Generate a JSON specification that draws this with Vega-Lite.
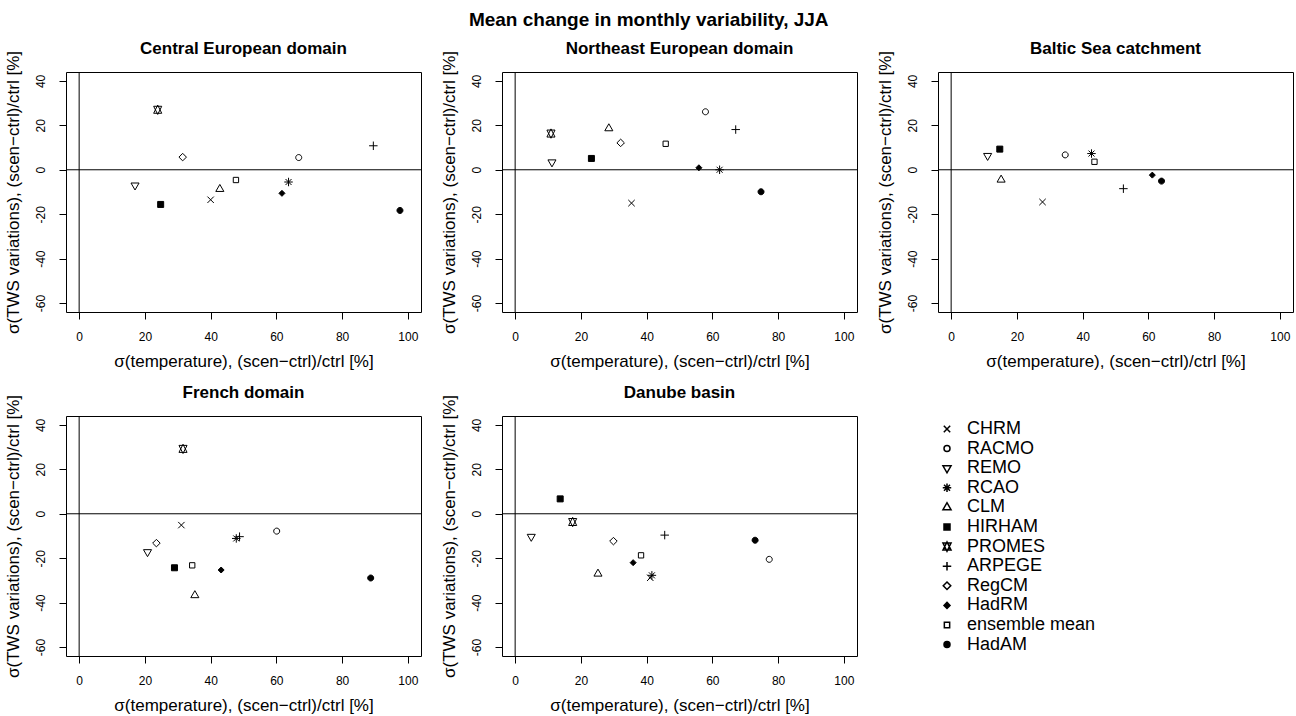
{
  "$schema": "https://vega.github.io/schema/vega-lite/v6.json",
  "padding": {"left": 3, "top": 11, "right": 0, "bottom": 0},
  "background": "white",
  "title": {"text": "Mean change in monthly variability, JJA", "fontSize": 19, "fontWeight": "bold", "anchor": "middle", "frame": "bounds", "offset": -6, "baseline": "alphabetic", "font": "Liberation Sans", "color": "black"},
  "datasets": {
    "pts": [
      {"region": "Central European domain", "model": "CHRM", "temp": 40.0, "tws": -13.5},
      {"region": "Central European domain", "model": "RACMO", "temp": 66.8, "tws": 5.5},
      {"region": "Central European domain", "model": "REMO", "temp": 17.0, "tws": -7.0},
      {"region": "Central European domain", "model": "RCAO", "temp": 63.7, "tws": -5.5},
      {"region": "Central European domain", "model": "CLM", "temp": 42.8, "tws": -8.7},
      {"region": "Central European domain", "model": "HIRHAM", "temp": 24.8, "tws": -15.6},
      {"region": "Central European domain", "model": "PROMES", "temp": 23.9, "tws": 27.0},
      {"region": "Central European domain", "model": "ARPEGE", "temp": 89.5, "tws": 10.8},
      {"region": "Central European domain", "model": "RegCM", "temp": 31.5, "tws": 5.7},
      {"region": "Central European domain", "model": "HadRM", "temp": 61.7, "tws": -10.6},
      {"region": "Central European domain", "model": "ensemble mean", "temp": 47.7, "tws": -4.6},
      {"region": "Central European domain", "model": "HadAM", "temp": 97.6, "tws": -18.3},
      {"region": "Northeast European domain", "model": "CHRM", "temp": 35.4, "tws": -15.0},
      {"region": "Northeast European domain", "model": "RACMO", "temp": 57.9, "tws": 26.1},
      {"region": "Northeast European domain", "model": "REMO", "temp": 11.2, "tws": 3.4},
      {"region": "Northeast European domain", "model": "RCAO", "temp": 62.2, "tws": 0.0},
      {"region": "Northeast European domain", "model": "CLM", "temp": 28.5, "tws": 18.6},
      {"region": "Northeast European domain", "model": "HIRHAM", "temp": 23.2, "tws": 5.1},
      {"region": "Northeast European domain", "model": "PROMES", "temp": 10.9, "tws": 16.3},
      {"region": "Northeast European domain", "model": "ARPEGE", "temp": 67.1, "tws": 18.1},
      {"region": "Northeast European domain", "model": "RegCM", "temp": 32.1, "tws": 12.1},
      {"region": "Northeast European domain", "model": "HadRM", "temp": 55.9, "tws": 0.9},
      {"region": "Northeast European domain", "model": "ensemble mean", "temp": 45.8, "tws": 11.7},
      {"region": "Northeast European domain", "model": "HadAM", "temp": 74.8, "tws": -9.9},
      {"region": "Baltic Sea catchment", "model": "CHRM", "temp": 27.8, "tws": -14.5},
      {"region": "Baltic Sea catchment", "model": "RACMO", "temp": 34.7, "tws": 6.7},
      {"region": "Baltic Sea catchment", "model": "REMO", "temp": 11.1, "tws": 6.3},
      {"region": "Baltic Sea catchment", "model": "RCAO", "temp": 42.7, "tws": 7.3},
      {"region": "Baltic Sea catchment", "model": "CLM", "temp": 15.2, "tws": -4.5},
      {"region": "Baltic Sea catchment", "model": "HIRHAM", "temp": 14.8, "tws": 9.3},
      {"region": "Baltic Sea catchment", "model": "ARPEGE", "temp": 52.4, "tws": -8.5},
      {"region": "Baltic Sea catchment", "model": "HadRM", "temp": 61.2, "tws": -2.4},
      {"region": "Baltic Sea catchment", "model": "ensemble mean", "temp": 43.6, "tws": 3.6},
      {"region": "Baltic Sea catchment", "model": "HadAM", "temp": 64.0, "tws": -5.1},
      {"region": "French domain", "model": "CHRM", "temp": 31.1, "tws": -5.1},
      {"region": "French domain", "model": "RACMO", "temp": 60.1, "tws": -7.8},
      {"region": "French domain", "model": "REMO", "temp": 20.8, "tws": -17.2},
      {"region": "French domain", "model": "RCAO", "temp": 47.8, "tws": -11.1},
      {"region": "French domain", "model": "CLM", "temp": 35.2, "tws": -36.7},
      {"region": "French domain", "model": "HIRHAM", "temp": 29.0, "tws": -24.3},
      {"region": "French domain", "model": "PROMES", "temp": 31.6, "tws": 29.2},
      {"region": "French domain", "model": "ARPEGE", "temp": 48.8, "tws": -10.3},
      {"region": "French domain", "model": "RegCM", "temp": 23.5, "tws": -13.2},
      {"region": "French domain", "model": "HadRM", "temp": 43.2, "tws": -25.3},
      {"region": "French domain", "model": "ensemble mean", "temp": 34.4, "tws": -23.2},
      {"region": "French domain", "model": "HadAM", "temp": 88.7, "tws": -28.9},
      {"region": "Danube basin", "model": "CHRM", "temp": 41.1, "tws": -28.8},
      {"region": "Danube basin", "model": "RACMO", "temp": 77.3, "tws": -20.5},
      {"region": "Danube basin", "model": "REMO", "temp": 4.9, "tws": -10.3},
      {"region": "Danube basin", "model": "RCAO", "temp": 41.6, "tws": -27.7},
      {"region": "Danube basin", "model": "CLM", "temp": 25.2, "tws": -27.0},
      {"region": "Danube basin", "model": "HIRHAM", "temp": 13.7, "tws": 6.7},
      {"region": "Danube basin", "model": "PROMES", "temp": 17.5, "tws": -3.7},
      {"region": "Danube basin", "model": "ARPEGE", "temp": 45.5, "tws": -9.6},
      {"region": "Danube basin", "model": "RegCM", "temp": 29.9, "tws": -12.3},
      {"region": "Danube basin", "model": "HadRM", "temp": 35.9, "tws": -22.0},
      {"region": "Danube basin", "model": "ensemble mean", "temp": 38.3, "tws": -18.7},
      {"region": "Danube basin", "model": "HadAM", "temp": 73.0, "tws": -11.9}
    ]
  },
  "columns": 3,
  "spacing": {"row": 104, "column": 81},
  "bounds": "flush",
  "concat": [
    {"title": "Central European domain", "width": 355, "height": 240, "layer": [
      {"data": {"name": "pts"}, "transform": [{"filter": "datum.region === 'Central European domain'"}],
       "mark": {"type": "point", "filled": false, "size": 64, "color": "black", "stroke": "black", "strokeWidth": 1, "opacity": 1},
       "encoding": {
         "x": {"field": "temp", "type": "quantitative", "title": "σ(temperature), (scen−ctrl)/ctrl [%]", "scale": {"domain": [-4, 104], "nice": false, "zero": false}, "axis": {"values": [0, 20, 40, 60, 80, 100]}},
         "y": {"field": "tws", "type": "quantitative", "title": "σ(TWS variations), (scen−ctrl)/ctrl [%]", "scale": {"domain": [-64, 44], "nice": false, "zero": false}, "axis": {"values": [-60, -40, -20, 0, 20, 40], "labelExpr": "'' + datum.value"}},
         "shape": {"field": "model", "type": "nominal", "title": null, "legend": {"encode": {"symbols": {"stroke": {"value": "black"}, "strokeWidth": {"value": 1}}}}, "scale": {"domain": ["CHRM", "RACMO", "REMO", "RCAO", "CLM", "HIRHAM", "PROMES", "ARPEGE", "RegCM", "HadRM", "ensemble mean", "HadAM"], "range": ["M-0.8,-0.8L0.8,0.8M-0.8,0.8L0.8,-0.8", "M0.75,0A0.75,0.75,0,1,1,-0.75,0A0.75,0.75,0,1,1,0.75,0Z", "M-1.01,-0.583L1.01,-0.583L0,1.166Z", "M-0.75,-0.75L0.75,0.75M-0.75,0.75L0.75,-0.75M-1.06,0L1.06,0M0,-1.06L0,1.06", "M-1.01,0.583L1.01,0.583L0,-1.166Z", "M-0.75,-0.75L0.75,-0.75L0.75,0.75L-0.75,0.75Z", "M-1.01,0.875L1.01,0.875L0,-1.166ZM-1.01,-0.875L1.01,-0.875L0,1.166Z", "M-1.06,0L1.06,0M0,-1.06L0,1.06", "M0,-0.94L0.94,0L0,0.94L-0.94,0Z", "M0,-0.75L0.75,0L0,0.75L-0.75,0Z", "M-0.665,-0.665L0.665,-0.665L0.665,0.665L-0.665,0.665Z", "M0.75,0A0.75,0.75,0,1,1,-0.75,0A0.75,0.75,0,1,1,0.75,0Z"]}},
         "fill": {"field": "model", "type": "nominal", "title": null, "legend": {"encode": {"symbols": {"stroke": {"value": "black"}, "strokeWidth": {"value": 1}}}}, "scale": {"domain": ["CHRM", "RACMO", "REMO", "RCAO", "CLM", "HIRHAM", "PROMES", "ARPEGE", "RegCM", "HadRM", "ensemble mean", "HadAM"], "range": ["transparent", "transparent", "transparent", "transparent", "transparent", "black", "transparent", "transparent", "transparent", "black", "transparent", "black"]}}
       }},
      {"data": {"values": [{}]}, "mark": {"type": "rule", "color": "black", "strokeWidth": 1}, "encoding": {"y": {"datum": 0, "type": "quantitative", "title": "σ(TWS variations), (scen−ctrl)/ctrl [%]"}}},
      {"data": {"values": [{}]}, "mark": {"type": "rule", "color": "black", "strokeWidth": 1}, "encoding": {"x": {"datum": 0, "type": "quantitative", "title": "σ(temperature), (scen−ctrl)/ctrl [%]"}}}
    ]},
    {"title": "Northeast European domain", "width": 355, "height": 240, "layer": [
      {"data": {"name": "pts"}, "transform": [{"filter": "datum.region === 'Northeast European domain'"}],
       "mark": {"type": "point", "filled": false, "size": 64, "color": "black", "stroke": "black", "strokeWidth": 1, "opacity": 1},
       "encoding": {
         "x": {"field": "temp", "type": "quantitative", "title": "σ(temperature), (scen−ctrl)/ctrl [%]", "scale": {"domain": [-4, 104], "nice": false, "zero": false}, "axis": {"values": [0, 20, 40, 60, 80, 100]}},
         "y": {"field": "tws", "type": "quantitative", "title": "σ(TWS variations), (scen−ctrl)/ctrl [%]", "scale": {"domain": [-64, 44], "nice": false, "zero": false}, "axis": {"values": [-60, -40, -20, 0, 20, 40], "labelExpr": "'' + datum.value"}},
         "shape": {"field": "model", "type": "nominal", "title": null, "legend": {"encode": {"symbols": {"stroke": {"value": "black"}, "strokeWidth": {"value": 1}}}}},
         "fill": {"field": "model", "type": "nominal", "title": null, "legend": {"encode": {"symbols": {"stroke": {"value": "black"}, "strokeWidth": {"value": 1}}}}}
       }},
      {"data": {"values": [{}]}, "mark": {"type": "rule", "color": "black", "strokeWidth": 1}, "encoding": {"y": {"datum": 0, "type": "quantitative", "title": "σ(TWS variations), (scen−ctrl)/ctrl [%]"}}},
      {"data": {"values": [{}]}, "mark": {"type": "rule", "color": "black", "strokeWidth": 1}, "encoding": {"x": {"datum": 0, "type": "quantitative", "title": "σ(temperature), (scen−ctrl)/ctrl [%]"}}}
    ]},
    {"title": "Baltic Sea catchment", "width": 355, "height": 240, "layer": [
      {"data": {"name": "pts"}, "transform": [{"filter": "datum.region === 'Baltic Sea catchment'"}],
       "mark": {"type": "point", "filled": false, "size": 64, "color": "black", "stroke": "black", "strokeWidth": 1, "opacity": 1},
       "encoding": {
         "x": {"field": "temp", "type": "quantitative", "title": "σ(temperature), (scen−ctrl)/ctrl [%]", "scale": {"domain": [-4, 104], "nice": false, "zero": false}, "axis": {"values": [0, 20, 40, 60, 80, 100]}},
         "y": {"field": "tws", "type": "quantitative", "title": "σ(TWS variations), (scen−ctrl)/ctrl [%]", "scale": {"domain": [-64, 44], "nice": false, "zero": false}, "axis": {"values": [-60, -40, -20, 0, 20, 40], "labelExpr": "'' + datum.value"}},
         "shape": {"field": "model", "type": "nominal", "title": null, "legend": {"encode": {"symbols": {"stroke": {"value": "black"}, "strokeWidth": {"value": 1}}}}},
         "fill": {"field": "model", "type": "nominal", "title": null, "legend": {"encode": {"symbols": {"stroke": {"value": "black"}, "strokeWidth": {"value": 1}}}}}
       }},
      {"data": {"values": [{}]}, "mark": {"type": "rule", "color": "black", "strokeWidth": 1}, "encoding": {"y": {"datum": 0, "type": "quantitative", "title": "σ(TWS variations), (scen−ctrl)/ctrl [%]"}}},
      {"data": {"values": [{}]}, "mark": {"type": "rule", "color": "black", "strokeWidth": 1}, "encoding": {"x": {"datum": 0, "type": "quantitative", "title": "σ(temperature), (scen−ctrl)/ctrl [%]"}}}
    ]},
    {"title": "French domain", "width": 355, "height": 240, "layer": [
      {"data": {"name": "pts"}, "transform": [{"filter": "datum.region === 'French domain'"}],
       "mark": {"type": "point", "filled": false, "size": 64, "color": "black", "stroke": "black", "strokeWidth": 1, "opacity": 1},
       "encoding": {
         "x": {"field": "temp", "type": "quantitative", "title": "σ(temperature), (scen−ctrl)/ctrl [%]", "scale": {"domain": [-4, 104], "nice": false, "zero": false}, "axis": {"values": [0, 20, 40, 60, 80, 100]}},
         "y": {"field": "tws", "type": "quantitative", "title": "σ(TWS variations), (scen−ctrl)/ctrl [%]", "scale": {"domain": [-64, 44], "nice": false, "zero": false}, "axis": {"values": [-60, -40, -20, 0, 20, 40], "labelExpr": "'' + datum.value"}},
         "shape": {"field": "model", "type": "nominal", "title": null, "legend": {"encode": {"symbols": {"stroke": {"value": "black"}, "strokeWidth": {"value": 1}}}}},
         "fill": {"field": "model", "type": "nominal", "title": null, "legend": {"encode": {"symbols": {"stroke": {"value": "black"}, "strokeWidth": {"value": 1}}}}}
       }},
      {"data": {"values": [{}]}, "mark": {"type": "rule", "color": "black", "strokeWidth": 1}, "encoding": {"y": {"datum": 0, "type": "quantitative", "title": "σ(TWS variations), (scen−ctrl)/ctrl [%]"}}},
      {"data": {"values": [{}]}, "mark": {"type": "rule", "color": "black", "strokeWidth": 1}, "encoding": {"x": {"datum": 0, "type": "quantitative", "title": "σ(temperature), (scen−ctrl)/ctrl [%]"}}}
    ]},
    {"title": "Danube basin", "width": 355, "height": 240, "layer": [
      {"data": {"name": "pts"}, "transform": [{"filter": "datum.region === 'Danube basin'"}],
       "mark": {"type": "point", "filled": false, "size": 64, "color": "black", "stroke": "black", "strokeWidth": 1, "opacity": 1},
       "encoding": {
         "x": {"field": "temp", "type": "quantitative", "title": "σ(temperature), (scen−ctrl)/ctrl [%]", "scale": {"domain": [-4, 104], "nice": false, "zero": false}, "axis": {"values": [0, 20, 40, 60, 80, 100]}},
         "y": {"field": "tws", "type": "quantitative", "title": "σ(TWS variations), (scen−ctrl)/ctrl [%]", "scale": {"domain": [-64, 44], "nice": false, "zero": false}, "axis": {"values": [-60, -40, -20, 0, 20, 40], "labelExpr": "'' + datum.value"}},
         "shape": {"field": "model", "type": "nominal", "title": null, "legend": {"encode": {"symbols": {"stroke": {"value": "black"}, "strokeWidth": {"value": 1}}}}},
         "fill": {"field": "model", "type": "nominal", "title": null, "legend": {"encode": {"symbols": {"stroke": {"value": "black"}, "strokeWidth": {"value": 1}}}}}
       }},
      {"data": {"values": [{}]}, "mark": {"type": "rule", "color": "black", "strokeWidth": 1}, "encoding": {"y": {"datum": 0, "type": "quantitative", "title": "σ(TWS variations), (scen−ctrl)/ctrl [%]"}}},
      {"data": {"values": [{}]}, "mark": {"type": "rule", "color": "black", "strokeWidth": 1}, "encoding": {"x": {"datum": 0, "type": "quantitative", "title": "σ(temperature), (scen−ctrl)/ctrl [%]"}}}
    ]}
  ],
  "config": {
    "font": "Liberation Sans",
    "view": {"stroke": "black", "strokeWidth": 1},
    "axis": {"domain": false, "grid": false, "ticks": true, "tickColor": "black", "tickSize": 7, "tickWidth": 1, "labelColor": "black", "labelFontSize": 12, "labelFont": "Liberation Sans", "labelFlush": false, "labelOverlap": false, "titleColor": "black", "titleFont": "Liberation Sans", "titleFontSize": 17, "titleFontWeight": "normal"},
    "axisX": {"labelPadding": 12, "titlePadding": 11},
    "axisY": {"labelAngle": -90, "labelAlign": "center", "labelBaseline": "bottom", "labelPadding": 12, "titlePadding": 12},
    "title": {"font": "Liberation Sans", "fontSize": 17, "fontWeight": "bold", "color": "black", "anchor": "middle", "baseline": "alphabetic", "offset": -7},
    "legend": {"orient": "none", "legendX": 872, "legendY": 348, "padding": 0, "labelFontSize": 18, "labelFont": "Liberation Sans", "labelColor": "black", "labelOffset": 11, "rowPadding": 1.6, "symbolSize": 64, "labelLimit": 300}
  }
}
